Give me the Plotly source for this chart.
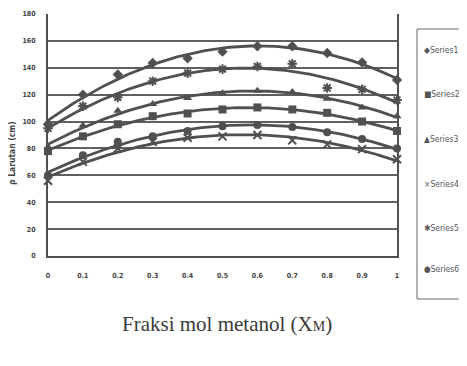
import numpy as np
import plotly.graph_objects as go

x_vals = [0, 0.1, 0.2, 0.3, 0.4, 0.5, 0.6, 0.7, 0.8, 0.9, 1.0]
x_ticks = [0, 0.1, 0.2, 0.3, 0.4, 0.5, 0.6, 0.7, 0.8, 0.9, 1.0]
x_ticktext = ["0", "0.1", "0.2", "0.3", "0.4", "0.5", "0.6", "0.7", "0.8", "0.9", "1"]
y_ticks = [0, 20, 40, 60, 80, 100, 120, 140, 160, 180]

series1 = [98, 120, 135, 143.5, 147, 152, 156, 156, 151, 144, 131]
series2 = [78, 89, 98, 104, 106, 109, 110.5, 109, 106.5, 100, 93]
series3 = [81, 97, 108, 113, 117.5, 121, 123, 122, 117, 110.5, 104]
series4 = [56, 70, 80, 85, 88, 89, 90, 86, 83, 79.5, 72]
series5 = [95, 111.5, 118, 130, 136, 139, 141, 143, 125, 124, 116]
series6 = [60, 75, 85, 89, 93, 96.5, 97.5, 96, 92, 87, 80]

series_names = ["Series1", "Series2", "Series3", "Series4", "Series5", "Series6"]
series_data = [series1, series2, series3, series4, series5, series6]
marker_symbols = ["diamond", "square", "triangle-up", "x-thin", "asterisk", "circle"]
legend_glyphs = ["◆", "■", "▲", "×", "✱", "●"]

GRAY = "#505050"
fig = go.Figure()

xf = np.linspace(0, 1, 101)
for name, ys in zip(series_names, series_data):
    coef = np.polyfit(x_vals, ys, 2)
    fig.add_trace(go.Scatter(x=xf, y=np.polyval(coef, xf), mode="lines",
                             line=dict(color=GRAY, width=2.8), showlegend=False,
                             hoverinfo="skip", cliponaxis=False))

for name, ys, sym in zip(series_names, series_data, marker_symbols):
    mk = dict(symbol=sym, size=8, color=GRAY)
    if "thin" in sym or sym == "asterisk":
        mk["line"] = dict(color=GRAY, width=2)
    fig.add_trace(go.Scatter(x=x_vals, y=ys, mode="markers", name=name,
                             marker=mk, showlegend=False, cliponaxis=False))

# the page body adds an 8px offset; compensate so positions match the window
OX, OY = 8, 7
W, H = 467, 366
L, R, T, B = 48 - OX, 467 - 397 + OX, 13 - OY, 366 - 255 + OY
pw, ph = W - L - R, H - T - B

def px(xp):
    return (xp - OX - L) / pw

def py(yp):
    return (H - B - (yp - OY)) / ph

fig.update_layout(
    width=W, height=H,
    margin=dict(l=L, r=R, t=T, b=B, autoexpand=False),
    paper_bgcolor="white", plot_bgcolor="white",
    showlegend=False,
    xaxis=dict(range=[0, 1], tickvals=x_ticks, ticktext=["<b>%s</b>" % t for t in x_ticktext],
               showgrid=False, zeroline=False, showline=True, linecolor=GRAY, linewidth=2,
               mirror=False, ticks="", ticklabelstandoff=12,
               tickfont=dict(family="DejaVu Sans Condensed, DejaVu Sans", size=7, color="#444")),
    yaxis=dict(range=[0, 180], tickvals=y_ticks, ticktext=["<b>%d</b>" % v for v in y_ticks],
               showgrid=True, gridcolor="#606060", gridwidth=1.5, zeroline=False,
               showline=True, linecolor=GRAY, linewidth=2, mirror=True, ticks="",
               ticklabelstandoff=9,
               tickfont=dict(family="DejaVu Sans Condensed, DejaVu Sans", size=7, color="#444")),
)

# legend box
fig.add_shape(type="rect", xref="paper", yref="paper",
              x0=px(417), x1=px(495), y0=py(298), y1=py(28),
              line=dict(color="#666", width=1), fillcolor="rgba(0,0,0,0)")
legend_y = [49, 93, 138, 183, 227, 268]
for gl, name, yy in zip(legend_glyphs, series_names, legend_y):
    fig.add_annotation(x=px(422), y=py(yy), xref="paper", yref="paper",
                       text=gl + name, showarrow=False, xanchor="left", yanchor="middle",
                       font=dict(family="DejaVu Sans Condensed, DejaVu Sans", size=8.5, color="#555"))

# axis titles
fig.add_annotation(x=px(12), y=py(152), xref="paper", yref="paper",
                   text="<b>ρ Larutan (cm)</b>", textangle=-90, showarrow=False,
                   xanchor="center", yanchor="middle",
                   font=dict(family="DejaVu Sans Condensed, DejaVu Sans", size=8.5, color="#444"))
fig.add_annotation(x=px(227), y=py(323), xref="paper", yref="paper",
                   text="Fraksi mol metanol (X<span style='font-size:14px'>M</span>)",
                   showarrow=False, xanchor="center", yanchor="middle",
                   font=dict(family="Liberation Serif", size=21, color="#3a3a3a"))

fig.write_html("out.html")
